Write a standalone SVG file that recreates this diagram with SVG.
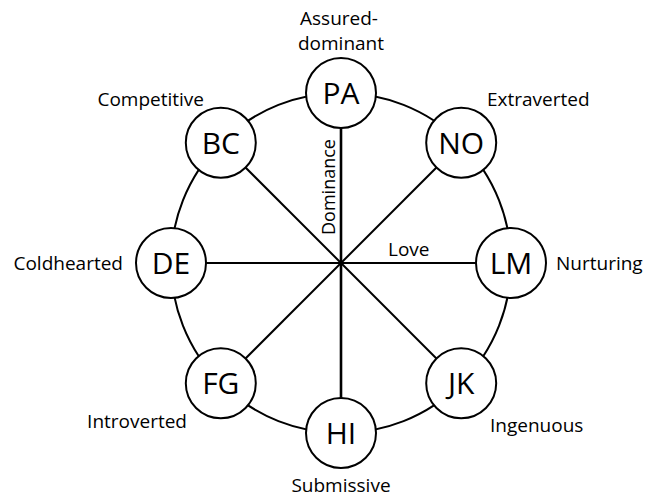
<svg xmlns="http://www.w3.org/2000/svg" width="654" height="498" viewBox="0 0 654 498">
<style>
.ring{fill:none;stroke:#000;stroke-width:2}
.spoke{stroke:#000;stroke-width:2}
.node circle{fill:#fff;stroke:#000;stroke-width:2}
.node text{font-family:"Open Sans","Liberation Sans",sans-serif;font-size:30px;text-anchor:middle;fill:#000}
.lbl{font-family:"Open Sans","Liberation Sans",sans-serif;font-size:19px;fill:#000}
</style>
<rect width="654" height="498" fill="#fff"/>
<g id="connectors">
<circle class="ring" cx="341" cy="263" r="170"/>
<line class="spoke" x1="341" y1="93" x2="341" y2="433" style="stroke-width:2.6"/>
<line class="spoke" x1="171" y1="263" x2="511" y2="263"/>
<line class="spoke" x1="220.8" y1="142.8" x2="461.2" y2="383.2"/>
<line class="spoke" x1="461.2" y1="142.8" x2="220.8" y2="383.2"/>
</g>
<g id="node-PA" class="node"><circle cx="341" cy="93" r="35"/><text x="341" y="104">PA</text></g>
<g id="node-NO" class="node"><circle cx="461.2" cy="142.8" r="35"/><text x="461.2" y="153.8">NO</text></g>
<g id="node-LM" class="node"><circle cx="511" cy="263" r="35"/><text x="511" y="274">LM</text></g>
<g id="node-JK" class="node"><circle cx="461.2" cy="383.2" r="35"/><text x="461.2" y="394.2">JK</text></g>
<g id="node-HI" class="node"><circle cx="341" cy="433" r="35"/><text x="341" y="444">HI</text></g>
<g id="node-FG" class="node"><circle cx="220.8" cy="383.2" r="35"/><text x="220.8" y="394.2">FG</text></g>
<g id="node-DE" class="node"><circle cx="171" cy="263" r="35"/><text x="171" y="274">DE</text></g>
<g id="node-BC" class="node"><circle cx="220.8" cy="142.8" r="35"/><text x="220.8" y="153.8">BC</text></g>
<g id="labels">
<text class="lbl" x="339" y="25" text-anchor="middle">Assured-</text>
<text class="lbl" x="341" y="50" text-anchor="middle">dominant</text>
<text class="lbl" x="204" y="106" text-anchor="end">Competitive</text>
<text class="lbl" x="487" y="106">Extraverted</text>
<text class="lbl" x="123" y="270" text-anchor="end">Coldhearted</text>
<text class="lbl" x="556" y="270">Nurturing</text>
<text class="lbl" x="187" y="428" text-anchor="end">Introverted</text>
<text class="lbl" x="490" y="432">Ingenuous</text>
<text class="lbl" x="341" y="492" text-anchor="middle">Submissive</text>
<text class="lbl" x="388" y="256">Love</text>
<text class="lbl" transform="translate(335,187) rotate(-90)" text-anchor="middle" style="font-size:18px">Dominance</text>
</g>
</svg>
